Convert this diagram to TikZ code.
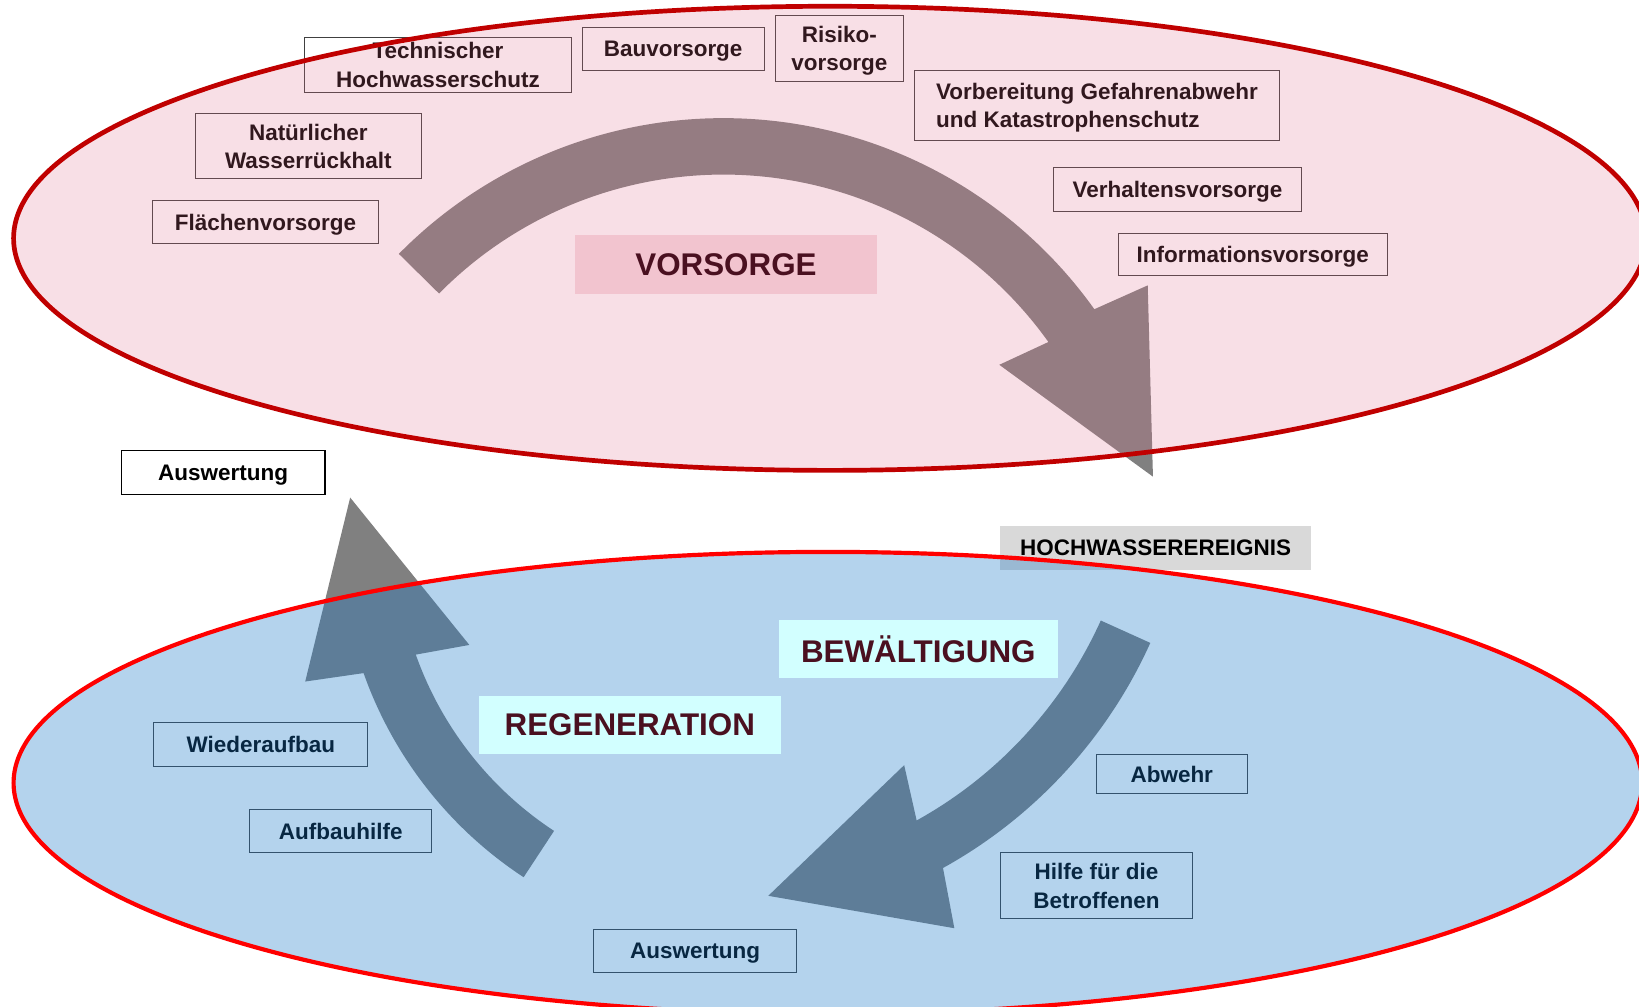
\documentclass[tikz,border=0pt]{standalone}
\usepackage{fontspec}
\setmainfont{Liberation Sans}

\definecolor{pinkdot}{RGB}{225,110,140}
\definecolor{bluedot}{RGB}{26,121,201}
\definecolor{vorsorgered}{RGB}{192,0,0}
\definecolor{regenred}{RGB}{255,0,0}
\definecolor{arrowgray}{RGB}{128,128,128}
\definecolor{labelpink}{RGB}{242,196,207}
\definecolor{labelcyan}{RGB}{210,255,255}
\definecolor{phasetext}{RGB}{74,16,32}
\definecolor{eventgray}{RGB}{217,217,217}
\definecolor{boxline}{RGB}{64,64,64}

\begin{document}
\begin{tikzpicture}[x=1pt,y=-1pt,
    term/.style={inner sep=0pt,align=center,text depth=0pt,font=\fontsize{21.5}{27}\selectfont\bfseries},
    box/.style={term,draw=boxline,line width=0.9pt},
    phase/.style={inner sep=0pt,text depth=0pt,text=phasetext,font=\fontsize{30}{36}\selectfont\bfseries},
    flow/.style={fill=arrowgray}]

    \useasboundingbox (0,0) rectangle (1568,963);

    % arrows
    \coordinate (cV) at (692,549);
    \coordinate (cB) at (676.7,423.7);
    \coordinate (cR) at (714.5,514.1);

    \fill[flow] ([shift={(cV)}]-135.4:436) arc[start angle=-135.4,end angle=-35.5,radius=436]
        -- (1098,273) -- (1103,456) -- (956,349)
        -- ([shift={(cV)}]-35.5:382) arc[start angle=-35.5,end angle=-135.4,radius=382] -- cycle;
    \fill[flow] ([shift={(cB)}]24.3:465) arc[start angle=24.3,end angle=61,radius=465]
        -- (913,888) -- (735,857) -- (865,732)
        -- ([shift={(cB)}]61:413) arc[start angle=61,end angle=24.3,radius=413] -- cycle;
    \fill[flow] ([shift={(cR)}]123.3:389) arc[start angle=123.3,end angle=160.5,radius=389]
        -- (292,652) -- (335,476) -- (449,617)
        -- ([shift={(cR)}]160.5:336) arc[start angle=160.5,end angle=123.3,radius=336] -- cycle;

    % Vorsorge
    \node[box,minimum width=256,minimum height=52] (tech) at (419,62) {Technischer\\Hochwasserschutz};
    \node[box,minimum width=174,minimum height=41] (bau) at (644,46.5) {Bauvorsorge};
    \node[box,minimum width=122,minimum height=63] (risiko) at (803,46.5) {Risiko-\\vorsorge};
    \node[box,align=left,minimum width=349,minimum height=67] (vorb) at (1049.5,100.5) {Vorbereitung Gefahrenabwehr\\und Katastrophenschutz};
    \node[box,minimum width=216,minimum height=62] (natur) at (295,140) {Natürlicher\\Wasserrückhalt};
    \node[box,minimum width=216,minimum height=41] (flaeche) at (254,212.5) {Flächenvorsorge};
    \node[box,minimum width=237,minimum height=42] (verhalten) at (1126.5,181) {Verhaltensvorsorge};
    \node[box,minimum width=257,minimum height=41] (info) at (1198.5,243.5) {Informationsvorsorge};

    % Bewaeltigung und Regeneration
    \node[term,fill=eventgray,minimum width=297,minimum height=42] (hochw) at (1105.5,524) {HOCHWASSEREREIGNIS};
    \node[box,minimum width=205,minimum height=42] (wieder) at (249.5,712) {Wiederaufbau};
    \node[box,minimum width=174,minimum height=42] (aufbau) at (326,795) {Aufbauhilfe};
    \node[box,minimum width=144,minimum height=37] (abwehr) at (1121,740.5) {Abwehr};
    \node[box,minimum width=184,minimum height=63] (hilfe) at (1049,847.5) {Hilfe für die\\Betroffenen};
    \node[box,minimum width=194,minimum height=41] (auswB) at (665,909.5) {Auswertung};

    % ellipses
    \fill[pinkdot,opacity=0.22] (794,228) ellipse[x radius=781,y radius=222];
    \fill[bluedot,opacity=0.33] (792,749) ellipse[x radius=779,y radius=221];

    \node[phase,fill=labelpink,minimum width=289,minimum height=56] (vorsorge) at (694.5,253) {VORSORGE};
    \node[phase,fill=labelcyan,minimum width=267,minimum height=56] (bewaelt) at (878.5,621) {BEWÄLTIGUNG};
    \node[phase,fill=labelcyan,minimum width=289,minimum height=55] (regen) at (602.5,693.5) {REGENERATION};

    \draw[vorsorgered,line width=4.5pt] (794,228) ellipse[x radius=781,y radius=222];
    \draw[regenred,line width=4pt] (792,749) ellipse[x radius=779,y radius=221];

    \node[box,draw=black,fill=white,line width=1.2pt,minimum width=195,minimum height=42] (auswA) at (213.5,452) {Auswertung};

\end{tikzpicture}
\end{document}
